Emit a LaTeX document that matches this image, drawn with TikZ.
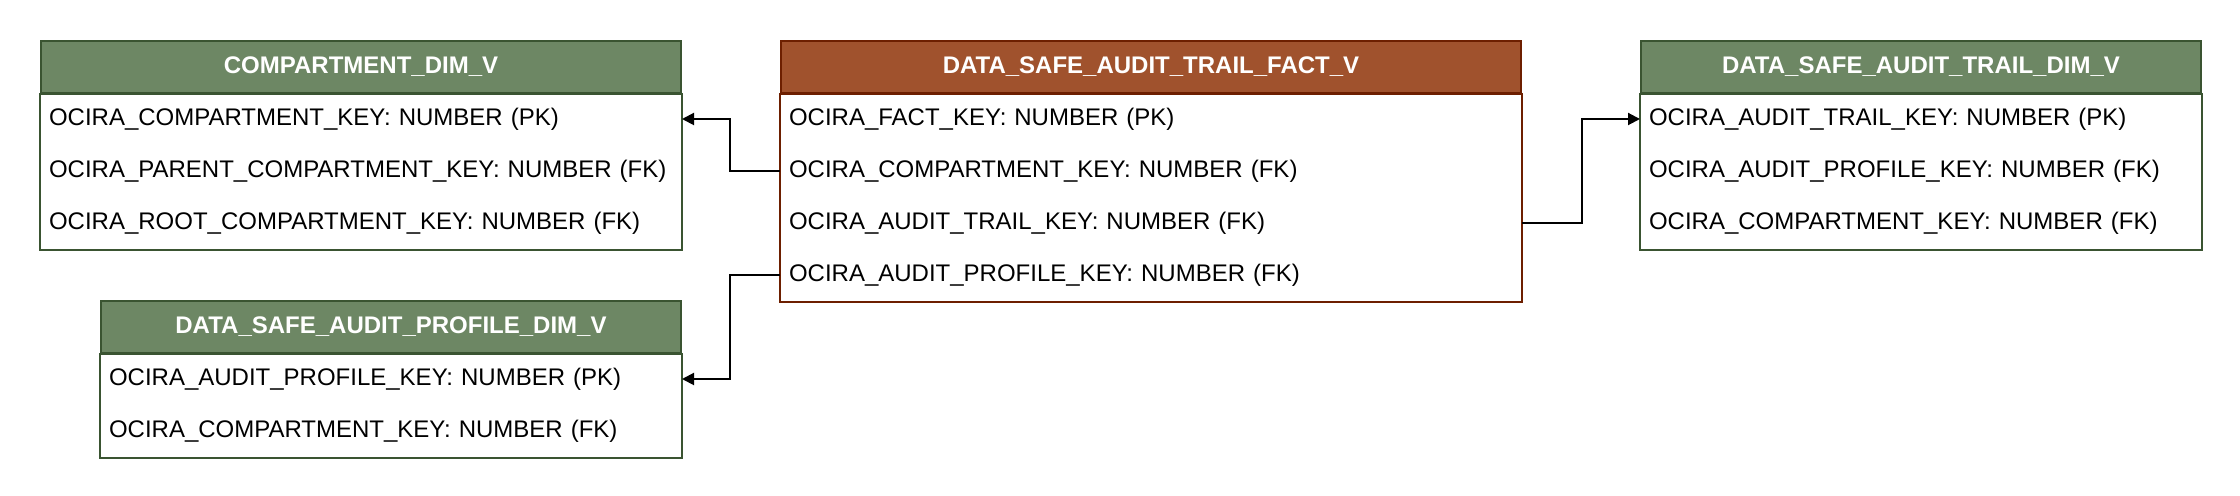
\documentclass[tikz,border=0pt]{standalone}
\usepackage{fontspec}
\setmainfont{Liberation Sans}
\usetikzlibrary{arrows.meta}

\definecolor{dimfill}{HTML}{6D8764}
\definecolor{dimline}{HTML}{3A5431}
\definecolor{factfill}{HTML}{A0522D}
\definecolor{factline}{HTML}{6D1F00}

\begin{document}
\begin{tikzpicture}[x=1pt, y=-1pt, line width=1pt, font=\fontsize{12pt}{14pt}\selectfont]
    \tikzstyle{header}=[anchor=north west, draw, minimum width=#1, minimum height=26pt,
                        inner sep=0pt, text=white, font=\fontsize{12pt}{14pt}\selectfont\bfseries]
    \tikzstyle{row}=[anchor=north west, text width=#1, align=left, inner xsep=4pt,
                     inner ysep=0pt, minimum height=26pt]
    \tikzstyle{fk}=[black, -{Triangle[length=6pt, width=6pt]}]
    \useasboundingbox (0,0) rectangle (1120,248);

    % dimension: compartments
    \node[header=320pt, fill=dimfill, draw=dimline] (comp) at (20,20) {COMPARTMENT\_DIM\_V};
    \node[row=312pt] (comp-1) at (20,46)  {OCIRA\_COMPARTMENT\_KEY: NUMBER (PK)};
    \node[row=312pt] (comp-2) at (20,72)  {OCIRA\_PARENT\_COMPARTMENT\_KEY: NUMBER (FK)};
    \node[row=312pt] (comp-3) at (20,98)  {OCIRA\_ROOT\_COMPARTMENT\_KEY: NUMBER (FK)};
    \draw[dimline] (comp.south west) rectangle (comp-3.south east);

    % dimension: audit profiles
    \node[header=290pt, fill=dimfill, draw=dimline] (prof) at (50,150) {DATA\_SAFE\_AUDIT\_PROFILE\_DIM\_V};
    \node[row=282pt] (prof-1) at (50,176) {OCIRA\_AUDIT\_PROFILE\_KEY: NUMBER (PK)};
    \node[row=282pt] (prof-2) at (50,202) {OCIRA\_COMPARTMENT\_KEY: NUMBER (FK)};
    \draw[dimline] (prof.south west) rectangle (prof-2.south east);

    % fact table
    \node[header=370pt, fill=factfill, draw=factline] (fact) at (390,20) {DATA\_SAFE\_AUDIT\_TRAIL\_FACT\_V};
    \node[row=362pt] (fact-1) at (390,46)  {OCIRA\_FACT\_KEY: NUMBER (PK)};
    \node[row=362pt] (fact-2) at (390,72)  {OCIRA\_COMPARTMENT\_KEY: NUMBER (FK)};
    \node[row=362pt] (fact-3) at (390,98)  {OCIRA\_AUDIT\_TRAIL\_KEY: NUMBER (FK)};
    \node[row=362pt] (fact-4) at (390,124) {OCIRA\_AUDIT\_PROFILE\_KEY: NUMBER (FK)};
    \draw[factline] (fact.south west) rectangle (fact-4.south east);

    % dimension: audit trails
    \node[header=280pt, fill=dimfill, draw=dimline] (trail) at (820,20) {DATA\_SAFE\_AUDIT\_TRAIL\_DIM\_V};
    \node[row=272pt] (trail-1) at (820,46) {OCIRA\_AUDIT\_TRAIL\_KEY: NUMBER (PK)};
    \node[row=272pt] (trail-2) at (820,72) {OCIRA\_AUDIT\_PROFILE\_KEY: NUMBER (FK)};
    \node[row=272pt] (trail-3) at (820,98) {OCIRA\_COMPARTMENT\_KEY: NUMBER (FK)};
    \draw[dimline] (trail.south west) rectangle (trail-3.south east);

    % foreign keys
    \draw[fk] (fact-2.west) -- ++(-25,0) |- (comp-1.east);
    \draw[fk] (fact-4.west) -- ++(-25,0) |- (prof-1.east);
    \draw[fk] (fact-3.east) -- ++(30,0) |- (trail-1.west);

\end{tikzpicture}
\end{document}
